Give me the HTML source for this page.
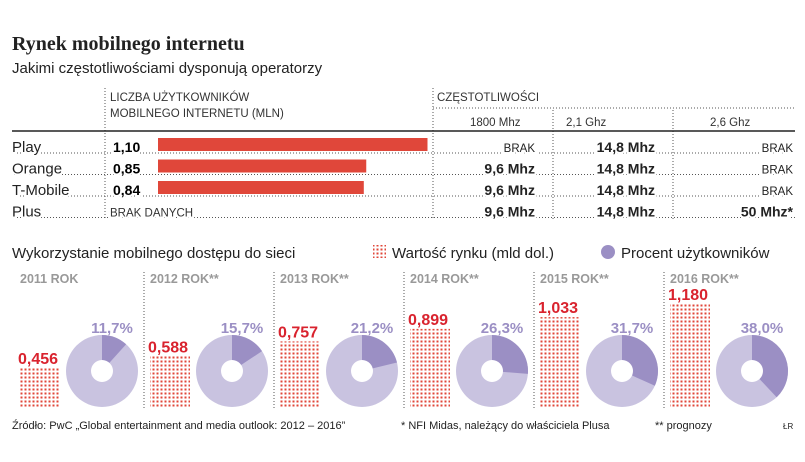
<!DOCTYPE html>
<html><head><meta charset="utf-8">
<style>
body{margin:0;width:805px;height:462px;background:#fff;font-family:"Liberation Sans",sans-serif;color:#222;overflow:hidden;position:relative}
.a{position:absolute;white-space:nowrap}
</style></head><body>
<div class="a" style="left:12px;top:33px;font-family:'Liberation Serif',serif;font-weight:bold;font-size:20px">Rynek mobilnego internetu</div>
<div class="a" style="left:12px;top:60px;font-size:15px">Jakimi częstotliwościami dysponują operatorzy</div>
<svg id="s" width="805" height="462" style="position:absolute;left:0;top:0"></svg>
<script>
const operators=["Play","Orange","T-Mobile","Plus"];
const users=[1.10,0.85,0.84,null];
const userLabels=["1,10","0,85","0,84","BRAK DANYCH"];
const f1800=["BRAK","9,6 Mhz","9,6 Mhz","9,6 Mhz"];
const f21=["14,8 Mhz","14,8 Mhz","14,8 Mhz","14,8 Mhz"];
const f26=["BRAK","BRAK","BRAK","50 Mhz*"];
const years=["2011 ROK","2012 ROK**","2013 ROK**","2014 ROK**","2015 ROK**","2016 ROK**"];
const marketValues=[0.456,0.588,0.757,0.899,1.033,1.180];
const marketLabels=["0,456","0,588","0,757","0,899","1,033","1,180"];
const userPct=[11.7,15.7,21.2,26.3,31.7,38.0];
const pctLabels=["11,7%","15,7%","21,2%","26,3%","31,7%","38,0%"];

const s=document.getElementById('s');const NS='http://www.w3.org/2000/svg';
function el(t,a,txt){const e=document.createElementNS(NS,t);for(const k in a)e.setAttribute(k,a[k]);if(txt!=null)e.textContent=txt;s.appendChild(e);return e;}
let defs=el('defs',{});
defs.innerHTML='<pattern id="dots" width="4" height="4" patternUnits="userSpaceOnUse"><rect x="0.5" y="0.5" width="2" height="2" fill="#e0473a"/></pattern>';
const dot={stroke:'#555','stroke-width':1,'stroke-dasharray':'1,2'};
let t;
t=el('text',{x:110,y:101,'font-size':11.5,fill:'#333'},'LICZBA UŻYTKOWNIKÓW');
el('text',{x:110,y:117,'font-size':11.5,fill:'#333'},'MOBILNEGO INTERNETU (MLN)');
t=el('text',{x:437,y:101,'font-size':11.5,fill:'#333'},'CZĘSTOTLIWOŚCI');
el('line',Object.assign({x1:433,y1:108,x2:795,y2:108},dot));
el('text',{x:470,y:126,'font-size':11.5,fill:'#333'},'1800 Mhz');
el('text',{x:566,y:126,'font-size':11.5,fill:'#333'},'2,1 Ghz');
el('text',{x:710,y:126,'font-size':11.5,fill:'#333'},'2,6 Ghz');
[105,433].forEach(x=>el('line',Object.assign({x1:x,y1:88,x2:x,y2:220},dot)));
[553,673].forEach(x=>el('line',Object.assign({x1:x,y1:110,x2:x,y2:220},dot)));
el('line',{x1:12,y1:131,x2:795,y2:131,stroke:'#222','stroke-width':1.5});
const bx0=158,bscale=245;
const bx=v=>bx0+v*bscale;
operators.forEach((o,i)=>{
 const y=152+i*21.5;
 el('line',Object.assign({x1:14,y1:y+1,x2:795,y2:y+1},dot));
 t=el('text',{x:12,y:y,'font-size':15,fill:'#222',stroke:'#fff','stroke-width':4,'paint-order':'stroke'},o);
 
 if(users[i]!=null){
  el('text',{x:113,y:y,'font-size':14,'font-weight':'bold',stroke:'#fff','stroke-width':4,'paint-order':'stroke'},userLabels[i]);
  const r=el('rect',{x:bx0,y:y-14,width:bx(users[i])-bx0,height:13,fill:'#e0473a'});
  
 } else el('text',{x:110,y:y,'font-size':11.5,fill:'#333',stroke:'#fff','stroke-width':4,'paint-order':'stroke'},userLabels[i]);
 [[f1800,535],[f21,655],[f26,793]].forEach(([arr,x])=>{
  const bold=arr[i]!=='BRAK';
  el('text',{x:x,y:y,'text-anchor':'end','font-size':bold?14:11.5,'font-weight':bold?'bold':'normal',fill:'#222',stroke:'#fff','stroke-width':4,'paint-order':'stroke'},arr[i]);
 });
});
t=el('text',{x:12,y:258,'font-size':15,fill:'#222'},'Wykorzystanie mobilnego dostępu do sieci');
t=el('rect',{x:373,y:245,width:13,height:13,fill:'url(#dots)'});
el('text',{x:392,y:258,'font-size':15,fill:'#222'},'Wartość rynku (mld dol.)');
t=el('circle',{cx:608,cy:252,r:7,fill:'#9b8fc4'});
el('text',{x:621,y:258,'font-size':15,fill:'#222'},'Procent użytkowników');
const base=408,vscale=88;
const vy=v=>base-v*vscale;
years.forEach((yr,i)=>{
 const d=14+130*i;
 if(i>0)el('line',Object.assign({x1:d,y1:272,x2:d,y2:410},dot));
 el('text',{x:d+6,y:283,'font-size':12.5,'font-weight':'bold',fill:'#999'},yr);
 const r=el('rect',{x:d+6,y:vy(marketValues[i]),width:40,height:base-vy(marketValues[i]),fill:'url(#dots)'});
 
 el('text',{x:d+4,y:vy(marketValues[i])-4,'font-size':16,'font-weight':'bold',fill:'#d9232e'},marketLabels[i]);
 const cx=d+88,cy=371,R=36,ri=11;
 el('circle',{cx,cy,r:R,fill:'#c9c3e0'});
 const a=userPct[i]/100*2*Math.PI;
 const x2=cx+R*Math.sin(a),y2=cy-R*Math.cos(a);
 const p=el('path',{d:`M${cx},${cy}L${cx},${cy-R}A${R},${R} 0 ${a>Math.PI?1:0} 1 ${x2},${y2}Z`,fill:'#9b8fc4'});
 
 el('circle',{cx,cy,r:ri,fill:'#fff'});
 el('text',{x:cx+10,y:333,'text-anchor':'middle','font-size':15,'font-weight':'bold',fill:'#9b8fc4'},pctLabels[i]);
});
t=el('text',{x:12,y:429,'font-size':11,fill:'#222'},'Źródło: PwC „Global entertainment and media outlook: 2012 – 2016”');
el('text',{x:401,y:429,'font-size':11,fill:'#222'},'* NFI Midas, należący do właściciela Plusa');
el('text',{x:655,y:429,'font-size':11,fill:'#222'},'** prognozy');
el('text',{x:783,y:429,'font-size':8,fill:'#222'},'ŁR');
</script>
</body></html>
